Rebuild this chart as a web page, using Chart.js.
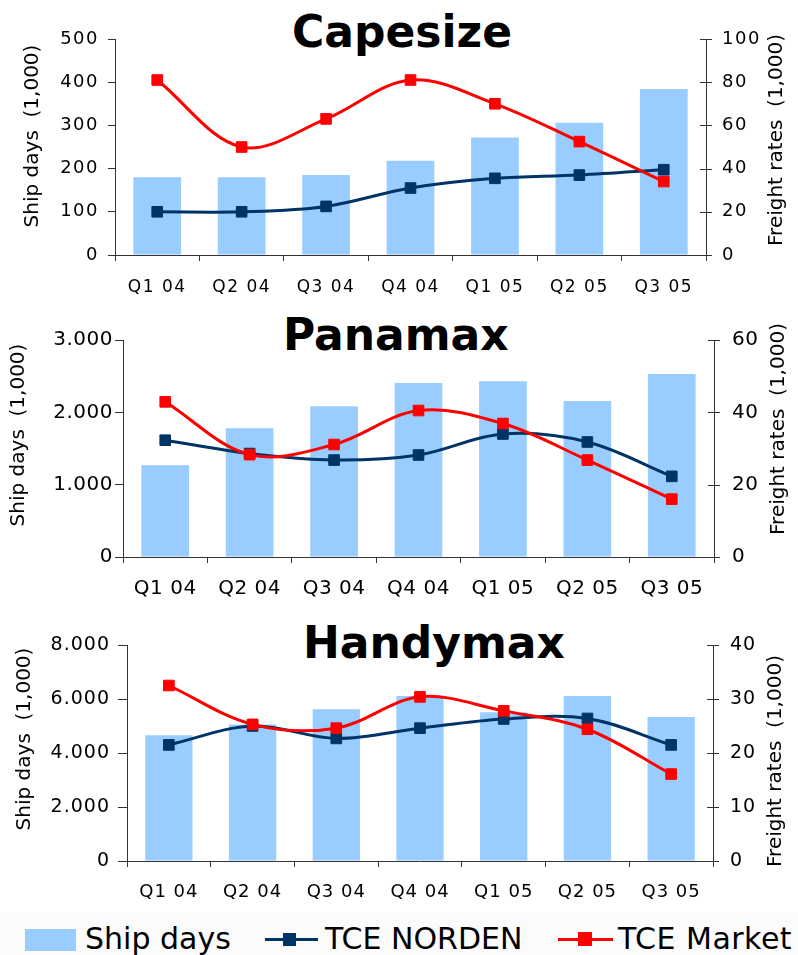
<!DOCTYPE html>
<html>
<head>
<meta charset="utf-8">
<script src="https://cdn.jsdelivr.net/npm/chart.js@4.4.1/dist/chart.umd.min.js"></script>
<style>
  html, body { margin: 0; padding: 0; background: #fff; }
  #page { position: relative; width: 798px; height: 955px; overflow: hidden;
          font-family: "DejaVu Sans", Verdana, sans-serif; color: #000; }
  #page canvas { position: absolute; left: 0; }
  .ttl { position: absolute; font-weight: bold; font-size: 44px; line-height: 44px; white-space: nowrap; }
  #legend { position: absolute; left: 0; top: 913px; width: 798px; height: 42px; background: #fbfbfb; }
  .lg-text { position: absolute; font-size: 30px; line-height: 30px; white-space: nowrap; }
  .lg-box, .lg-line, .lg-mark { position: absolute; }
</style>
</head>
<body>
<div id="page">
  <div id="legend"></div>
  <div class="lg-box" style="left:25px;top:929px;width:51px;height:22px;background:#99CCFF"></div>
  <div class="lg-text" style="left:85px;top:923.6px">Ship days</div>
  <div class="lg-line" style="left:265px;top:937.5px;width:53px;height:3.5px;background:#003366"></div>
  <div class="lg-mark" style="left:283px;top:932.5px;width:13px;height:13px;background:#003366"></div>
  <div class="lg-text" style="left:325px;top:923.6px">TCE NORDEN</div>
  <div class="lg-line" style="left:558px;top:937.5px;width:55px;height:3.5px;background:#FF0000"></div>
  <div class="lg-mark" style="left:578px;top:932px;width:14px;height:14px;background:#FF0000"></div>
  <div class="lg-text" style="left:618px;top:923.6px;letter-spacing:0.5px">TCE Market</div>
</div>
<script>
// Quarterly ship days (1,000) and freight rates (TCE, 1,000) per vessel segment
const quarters = ['Q1 04', 'Q2 04', 'Q3 04', 'Q4 04', 'Q1 05', 'Q2 05', 'Q3 05'];

const capesizeShipDays = [180, 180, 185, 218, 272, 306, 384];
const capesizeNorden   = [20, 20, 22.5, 31, 35.5, 37, 39.5];
const capesizeMarket   = [81, 50, 63, 81, 70, 52.5, 34];

const panamaxShipDays = [1270, 1780, 2085, 2405, 2430, 2155, 2530];
const panamaxNorden   = [32.3, 28.6, 26.8, 28.2, 34, 31.8, 22.3];
const panamaxMarket   = [42.9, 28.3, 31.1, 40.5, 36.9, 26.8, 16];

const handymaxShipDays = [4660, 5060, 5625, 6110, 5505, 6110, 5330];
const handymaxNorden   = [21.5, 25, 22.7, 24.6, 26.3, 26.4, 21.5];
const handymaxMarket   = [32.5, 25.3, 24.6, 30.4, 27.8, 24.4, 16.1];

// Axis tick values
const capesizeDayTicks  = [0, 100, 200, 300, 400, 500];
const capesizeRateTicks = [0, 20, 40, 60, 80, 100];
const panamaxDayTicks   = [0, 1000, 2000, 3000];
const panamaxRateTicks  = [0, 20, 40, 60];
const handymaxDayTicks  = [0, 2000, 4000, 6000, 8000];
const handymaxRateTicks = [0, 10, 20, 30, 40];

const seriesNames = ['Ship days', 'TCE NORDEN', 'TCE Market'];
const leftAxisTitle = 'Ship days  (1,000)';
const rightAxisTitle = 'Freight rates  (1,000)';

const COLORS = { days: '#99CCFF', norden: '#003366', market: '#FF0000', axis: '#333333' };
const FONT = '"DejaVu Sans", Verdana, sans-serif';
Chart.defaults.font.family = FONT;
Chart.defaults.color = '#000';

// Panel layout: canvas band and plot-area edges in page pixels
const panels = [
  { title: 'Capesize', titleLeft: 292, titleBaseline: 47,
    top: 0, height: 300, area: { left: 115, right: 706, top: 39, bottom: 255 },
    days: capesizeShipDays, norden: capesizeNorden, market: capesizeMarket,
    dayTicks: capesizeDayTicks, rateTicks: capesizeRateTicks,
    yFont: 18, xFont: 17, spacing: '1.5px', yTick: 7, yPad: 9, rPad: 16, xPad: 16,
    leftTitle: { x: 33, y: 136 }, rightTitle: { x: 777, y: 140 } },
  { title: 'Panamax', titleLeft: 283, titleBaseline: 350,
    top: 300, height: 305, area: { left: 123, right: 714, top: 340, bottom: 557 },
    days: panamaxShipDays, norden: panamaxNorden, market: panamaxMarket,
    dayTicks: panamaxDayTicks, rateTicks: panamaxRateTicks,
    yFont: 20, xFont: 20, spacing: '0.5px', yTick: 8, yPad: 2, rPad: 18, xPad: 14,
    leftTitle: { x: 19, y: 435 }, rightTitle: { x: 779, y: 429 } },
  { title: 'Handymax', titleLeft: 303, titleBaseline: 658,
    top: 605, height: 307, area: { left: 127, right: 713, top: 645, bottom: 861 },
    days: handymaxShipDays, norden: handymaxNorden, market: handymaxMarket,
    dayTicks: handymaxDayTicks, rateTicks: handymaxRateTicks,
    yFont: 19, xFont: 18, spacing: '1px', yTick: 9, yPad: 8, rPad: 17, xPad: 15,
    leftTitle: { x: 25, y: 739 }, rightTitle: { x: 776, y: 761 } }
];

function thousands(v) {
  return String(v).replace(/\B(?=(\d{3})+(?!\d))/g, '.');
}

// Tick text letter spacing, vertical axis titles and crossing ticks on the right axis
const panelDecor = {
  id: 'panelDecor',
  beforeDraw(chart, args, o) { chart.ctx.letterSpacing = o.spacing; },
  afterDraw(chart, args, o) {
    const ctx = chart.ctx;
    ctx.save();
    ctx.letterSpacing = '0px';
    ctx.font = '20px ' + FONT;
    ctx.fillStyle = '#000';
    ctx.textAlign = 'center';
    ctx.textBaseline = 'middle';
    [[o.left, leftAxisTitle], [o.right, rightAxisTitle]].forEach(([p, text]) => {
      ctx.save();
      ctx.translate(p.x, p.y - o.offset);
      ctx.rotate(-Math.PI / 2);
      ctx.fillText(text, 0, 0);
      ctx.restore();
    });
    const s = chart.scales.y1;
    ctx.strokeStyle = COLORS.axis;
    ctx.lineWidth = 1;
    s.ticks.forEach(t => {
      const y = Math.round(s.getPixelForValue(t.value)) + 0.5;
      ctx.beginPath();
      ctx.moveTo(s.left - 6, y);
      ctx.lineTo(s.left + 6, y);
      ctx.stroke();
    });
    ctx.restore();
    ctx.letterSpacing = '0px';
  }
};

const page = document.getElementById('page');

panels.forEach(p => {
  const t = document.createElement('div');
  t.className = 'ttl';
  t.textContent = p.title;
  t.style.left = p.titleLeft + 'px';
  t.style.top = (p.titleBaseline - 37.2) + 'px';
  page.appendChild(t);

  const canvas = document.createElement('canvas');
  canvas.width = 798;
  canvas.height = p.height;
  canvas.style.top = p.top + 'px';
  page.appendChild(canvas);

  const lineSet = (label, data, color, order) => ({
    type: 'line', label, data, yAxisID: 'y1', order,
    borderColor: color, backgroundColor: color, borderWidth: 3,
    tension: 0.35, fill: false,
    pointStyle: 'rect', pointRadius: 7.5, pointBorderWidth: 1,
    pointBackgroundColor: color, pointBorderColor: color
  });

  new Chart(canvas, {
    type: 'bar',
    data: {
      labels: quarters,
      datasets: [
        { type: 'bar', label: seriesNames[0], data: p.days, yAxisID: 'y', order: 2,
          backgroundColor: COLORS.days, borderWidth: 0,
          categoryPercentage: 1, barPercentage: 0.565 },
        lineSet(seriesNames[1], p.norden, COLORS.norden, 1),
        lineSet(seriesNames[2], p.market, COLORS.market, 0)
      ]
    },
    options: {
      responsive: false,
      devicePixelRatio: 1,
      animation: false,
      layout: { padding: { top: p.area.top - p.top, left: 0, right: 0, bottom: 0 } },
      plugins: {
        legend: { display: false },
        tooltip: { enabled: false },
        panelDecor: { spacing: p.spacing, left: p.leftTitle, right: p.rightTitle, offset: p.top }
      },
      scales: {
        x: {
          offset: true,
          grid: { drawOnChartArea: false, offset: true, tickLength: 6, color: COLORS.axis },
          border: { color: COLORS.axis, width: 1 },
          ticks: { font: { size: p.xFont }, padding: p.xPad, autoSkip: false, maxRotation: 0, color: '#000' },
          afterFit(s) { s.height = p.height - (p.area.bottom - p.top); }
        },
        y: {
          position: 'left',
          min: p.dayTicks[0], max: p.dayTicks[p.dayTicks.length - 1],
          afterBuildTicks(s) { s.ticks = p.dayTicks.map(v => ({ value: v })); },
          grid: { drawOnChartArea: false, tickLength: p.yTick, color: COLORS.axis },
          border: { color: COLORS.axis, width: 1 },
          ticks: { font: { size: p.yFont }, padding: p.yPad, color: '#000', callback: v => thousands(v) },
          afterFit(s) { s.width = p.area.left; }
        },
        y1: {
          position: 'right',
          min: p.rateTicks[0], max: p.rateTicks[p.rateTicks.length - 1],
          afterBuildTicks(s) { s.ticks = p.rateTicks.map(v => ({ value: v })); },
          grid: { drawOnChartArea: false, drawTicks: false, color: COLORS.axis },
          border: { color: COLORS.axis, width: 1 },
          ticks: { font: { size: p.yFont }, padding: p.rPad, color: '#000' },
          afterFit(s) { s.width = 798 - p.area.right; }
        }
      }
    },
    plugins: [panelDecor]
  });
});
</script>
</body>
</html>
